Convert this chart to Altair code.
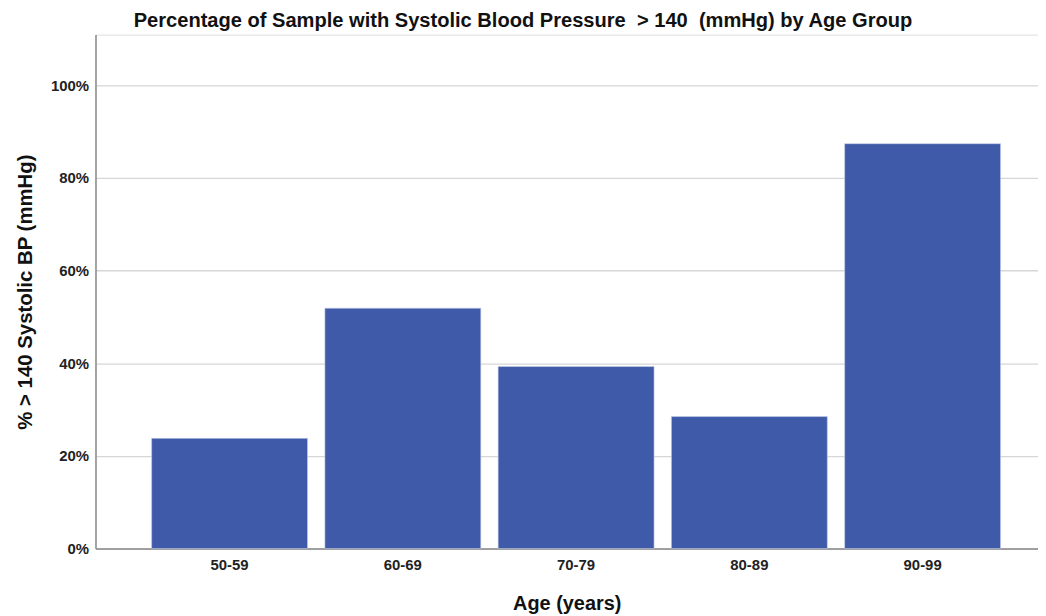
import altair as alt
import pandas as pd

age_groups = ["50-59", "60-69", "70-79", "80-89", "90-99"]
pct_high_bp = [0.238, 0.519, 0.393, 0.285, 0.874]
y_ticks = [0, 0.2, 0.4, 0.6, 0.8, 1.0]

df = pd.DataFrame({"age": age_groups, "pct": pct_high_bp})

title_text = "Percentage of Sample with Systolic Blood Pressure\u00a0\u00a0> 140\u00a0\u00a0(mmHg) by Age Group"

chart = (
    alt.Chart(df)
    .mark_bar(color="#3F5AA8", stroke="#C9D2EA", strokeWidth=0.6)
    .encode(
        x=alt.X(
            "age:N",
            sort=age_groups,
            title="Age (years)",
            scale=alt.Scale(paddingInner=0.1, paddingOuter=0.27, align=0.6),
            axis=alt.Axis(
                labelAngle=0,
                labelFont="Liberation Sans",
                labelFontWeight="bold",
                labelFontSize=15,
                labelColor="#222222",
                labelPadding=9,
                ticks=False,
                domainColor="#8a8a8a",
                domainWidth=1.5,
                titleFont="Liberation Sans",
                titleFontWeight="bold",
                titleFontSize=20,
                titleColor="#111111",
                titleBaseline="alphabetic",
                titleY=61,
            ),
        ),
        y=alt.Y(
            "pct:Q",
            title="% > 140 Systolic BP (mmHg)",
            scale=alt.Scale(domain=[0, 1.1094], nice=False),
            axis=alt.Axis(
                values=y_ticks,
                format=".0%",
                labelFont="Liberation Sans",
                labelFontWeight="bold",
                labelFontSize=15,
                labelColor="#222222",
                labelPadding=7,
                ticks=False,
                grid=True,
                gridColor="#d6d6d6",
                gridWidth=1.3,
                domainColor="#8a8a8a",
                domainWidth=1.5,
                titleFont="Liberation Sans",
                titleFontWeight="bold",
                titleFontSize=20.5,
                titleColor="#111111",
                titleBaseline="alphabetic",
                titleX=-64,
            ),
        ),
    )
    .properties(
        width=948,
        height=517,
        padding={"left": 88, "top": 25, "right": 0, "bottom": 66},
        autosize=alt.AutoSizeParams(type="none"),
        title=alt.Title(
            title_text,
            font="Liberation Sans",
            fontSize=20.2,
            fontWeight="bold",
            color="#111111",
            anchor="middle",
            dx=-44,
            offset=3,
        ),
    )
    .configure_view(stroke=None)
    .configure(background="white")
)

chart.save("out.html", embed_options={"renderer": "svg", "actions": False})
